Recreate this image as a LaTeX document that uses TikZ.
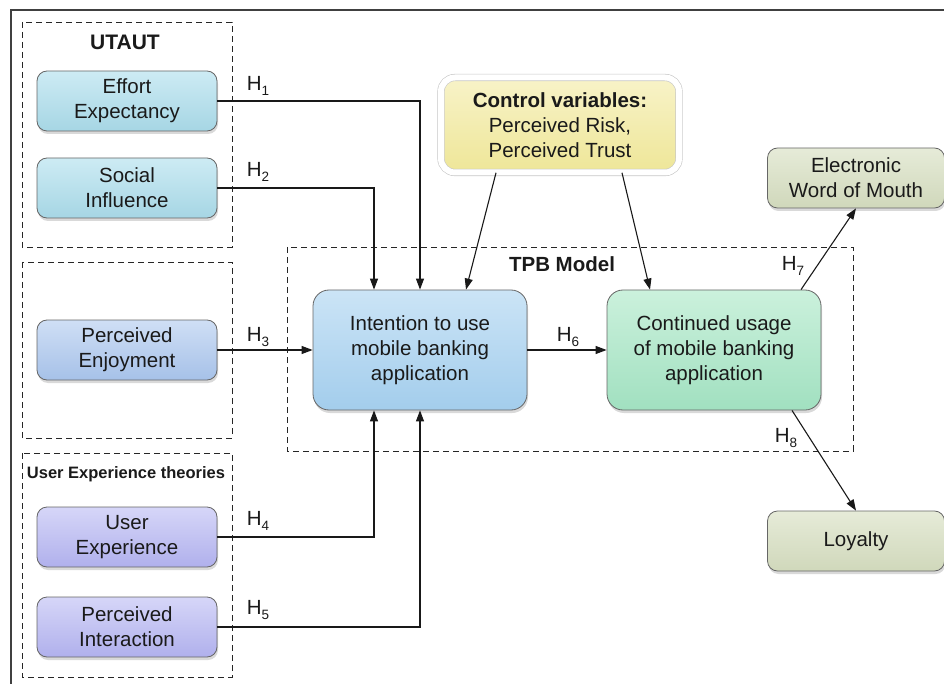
\documentclass[tikz,border=0pt]{standalone}
\usepackage{fontspec}
\setmainfont{Liberation Sans}
\usetikzlibrary{arrows.meta,shadows}
\definecolor{eeC}{HTML}{A6D6E4}\definecolor{eeT}{HTML}{CDEBF4}
\definecolor{peC}{HTML}{A6C1E8}\definecolor{peT}{HTML}{CFDFF5}
\definecolor{ueC}{HTML}{B0B0EC}\definecolor{ueT}{HTML}{D6D6F8}
\definecolor{intC}{HTML}{A3CDEC}\definecolor{intT}{HTML}{CBE4F6}
\definecolor{conC}{HTML}{A1E0C0}\definecolor{conT}{HTML}{CBF1DC}
\definecolor{ctrlC}{HTML}{EEE698}\definecolor{ctrlT}{HTML}{F8F3C8}
\definecolor{outC}{HTML}{D0D8BB}\definecolor{outT}{HTML}{E6EBD8}
\definecolor{txtC}{HTML}{1A1A1A}
\newcommand{\hsub}[1]{H\raisebox{-0.28em}{\fontsize{13.5}{13.5}\selectfont #1}}
\tikzset{
  box/.style={rounded corners=10pt, draw=black!60, line width=0.8pt,
    minimum width=180pt, minimum height=60pt, align=center, text=txtC,
    font=\fontsize{20.5}{25}\selectfont, inner sep=2pt,
    drop shadow={shadow xshift=1pt, shadow yshift=-3pt, opacity=0.3}},
  eebox/.style={box, top color=eeT, bottom color=eeC},
  pebox/.style={box, top color=peT, bottom color=peC},
  uebox/.style={box, top color=ueT, bottom color=ueC},
  bigbox/.style={box, minimum width=214pt, minimum height=120pt, rounded corners=16pt},
  outbox/.style={box, minimum width=177pt, top color=outT, bottom color=outC},
  grp/.style={draw=black!85, dashed, dash pattern=on 6pt off 4pt, line width=0.9pt},
  lbl/.style={font=\fontsize{21}{24}\selectfont\bfseries, text=txtC},
  hl/.style={font=\fontsize{20.5}{24}\selectfont, text=txtC, inner sep=0pt},
  conn/.style={draw=black!90, line width=1.1pt},
  arr/.style={conn, -{Triangle[length=11pt,width=8pt]}}
}
\begin{document}
\begin{tikzpicture}[x=1pt,y=-1pt]
\useasboundingbox (0,0) rectangle (944,684);
% outer frame
\draw[black!75, line width=1.6pt] (11,684) -- (11,10) -- (944,10);
% group boxes
\draw[grp] (22,22) rectangle (232,247);
\draw[grp] (22,262) rectangle (232,438);
\draw[grp] (22,453) rectangle (232,677);
\draw[grp] (287,247) rectangle (853,451);
\node[lbl] (utaut) at (125,42) {UTAUT};
\node[lbl, font=\fontsize{16.5}{18}\selectfont\bfseries] (uet) at (126,474) {User Experience theories};
\node[lbl, font=\fontsize{20.5}{24}\selectfont\bfseries] (tpb) at (562,264) {TPB Model};
% nodes
\node[eebox] (ee) at (127,101) {Effort\\Expectancy};
\node[eebox] (si) at (127,188) {Social\\Influence};
\node[pebox] (pe) at (127,350) {Perceived\\Enjoyment};
\node[uebox] (ue) at (127,537) {User\\Experience};
\node[uebox] (pi) at (127,627) {Perceived\\Interaction};
\node[bigbox, top color=intT, bottom color=intC] (int) at (420,350) {Intention to use\\mobile banking\\application};
\node[bigbox, top color=conT, bottom color=conC] (con) at (714,350) {Continued usage\\of mobile banking\\application};
\node[box, minimum width=238pt, minimum height=95pt, rounded corners=14pt,
  top color=ctrlT, bottom color=ctrlC, draw=gray!45, double=white, double distance=6pt,
  line width=0.6pt] (ctrl) at (560,125) {\textbf{Control variables:}\\Perceived Risk,\\Perceived Trust};
\node[outbox] (ewom) at (856,178) {Electronic\\Word of Mouth};
\node[outbox] (loy) at (856,541) {Loyalty};
% connectors
\draw[arr] (ee.east) -| (int.north);
\draw[arr] (si.east) -| ([xshift=-46pt]int.north);
\draw[arr] (pe.east) -- (int.west);
\draw[arr] (ue.east) -| ([xshift=-46pt]int.south);
\draw[arr] (pi.east) -| (int.south);
\draw[arr] ([xshift=-64pt]ctrl.south) -- ([xshift=46pt]int.north);
\draw[arr] ([xshift=62pt]ctrl.south) -- ([xshift=-64pt]con.north);
\draw[arr] (int.east) -- (con.west);
\draw[arr] ([xshift=87pt]con.north) -- (ewom.south);
\draw[arr] ([xshift=78pt]con.south) -- (loy.north);
% labels
\node[hl] (h1) at (258,86) {\hsub{1}};
\node[hl] (h2) at (258,172) {\hsub{2}};
\node[hl] (h3) at (258,337) {\hsub{3}};
\node[hl] (h4) at (258,521) {\hsub{4}};
\node[hl] (h5) at (258,610) {\hsub{5}};
\node[hl] (h6) at (568,337) {\hsub{6}};
\node[hl] (h7) at (793,266) {\hsub{7}};
\node[hl] (h8) at (786,438) {\hsub{8}};
\end{tikzpicture}
\end{document}
